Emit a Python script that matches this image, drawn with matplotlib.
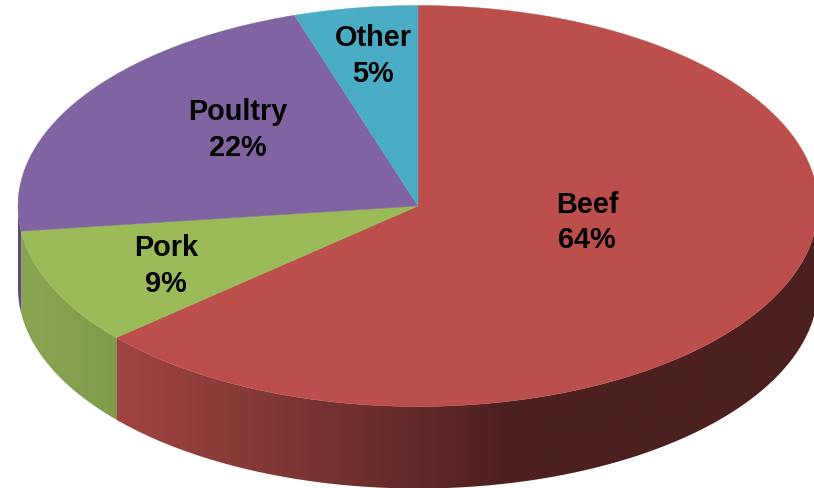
import numpy as np
import matplotlib
matplotlib.use('Agg')
from matplotlib import pyplot as plt
from matplotlib.colors import to_rgb
from matplotlib.patches import Polygon

categories = ['Beef', 'Pork', 'Poultry', 'Other']
shares = [63.6, 9.4, 22, 5]

top_colors = ['#bc4f4c', '#9bbb59', '#8064a2', '#4bacc6']

# side shading, colour stops along x
side_stops = {
    'Beef': ([117, 300, 510, 820], ['#a04441', '#7c3533', '#4b201f', '#4b201f']),
    'Pork': ([18, 117], ['#8aa552', '#7f9c4a']),
    'Poultry': ([16, 24], ['#5f4a80', '#5f4a80']),
    'Other': ([0, 1], ['#4bacc6', '#4bacc6']),
}

cx, cy = 418, 207
rx, ry = 400, 200.5
depth = 82

fig = plt.figure(figsize=(8.14, 4.89), dpi=100)
ax = fig.add_axes([0, 0, 1, 1])


def edge(t):
    return cx + rx * np.sin(t), cy - ry * np.cos(t)


bounds = np.cumsum([0] + shares) / sum(shares) * 2 * np.pi

# walls first, only the front half of the rim shows
for name, start, end in zip(categories, bounds[:-1], bounds[1:]):
    lo, hi = max(start, np.pi / 2), min(end, 3 * np.pi / 2)
    if lo >= hi:
        continue
    ts = np.linspace(lo, hi, 300)
    x, y = edge(ts)
    outline = np.c_[np.r_[x, x[::-1]], np.r_[y, y[::-1] + depth]]
    xs_stop, cols = side_stops[name]
    rgb = np.array([to_rgb(c) for c in cols])
    xgrid = np.linspace(x.min() - 2, x.max() + 2, 500)
    strip = np.stack([np.interp(xgrid, xs_stop, rgb[:, i]) for i in range(3)], axis=-1)[None, :, :]
    im = ax.imshow(strip, extent=[xgrid[0], xgrid[-1], y.max() + depth + 2, y.min() - 2],
                   aspect='auto', interpolation='bilinear', zorder=1)
    im.set_clip_path(Polygon(outline, transform=ax.transData))

# top face
for name, start, end, col in zip(categories, bounds[:-1], bounds[1:], top_colors):
    ts = np.linspace(start, end, 300)
    x, y = edge(ts)
    ax.fill(np.r_[cx, x], np.r_[cy, y], color=col, lw=0.3, zorder=3)

label_x = [587, 166, 238, 373]
label_y = [222.5, 266, 130, 56]
for name, share, lx, ly in zip(categories, shares, label_x, label_y):
    ax.text(lx, ly, f'{name}\n{share:.0f}%', ha='center', va='center', family='Liberation Sans',
            fontweight='bold', fontsize=20.8, color='black', linespacing=1.34, zorder=5)

ax.set_xlim(0, 814)
ax.set_ylim(489, 0)
ax.axis('off')

fig.savefig('out.png', dpi=100)
